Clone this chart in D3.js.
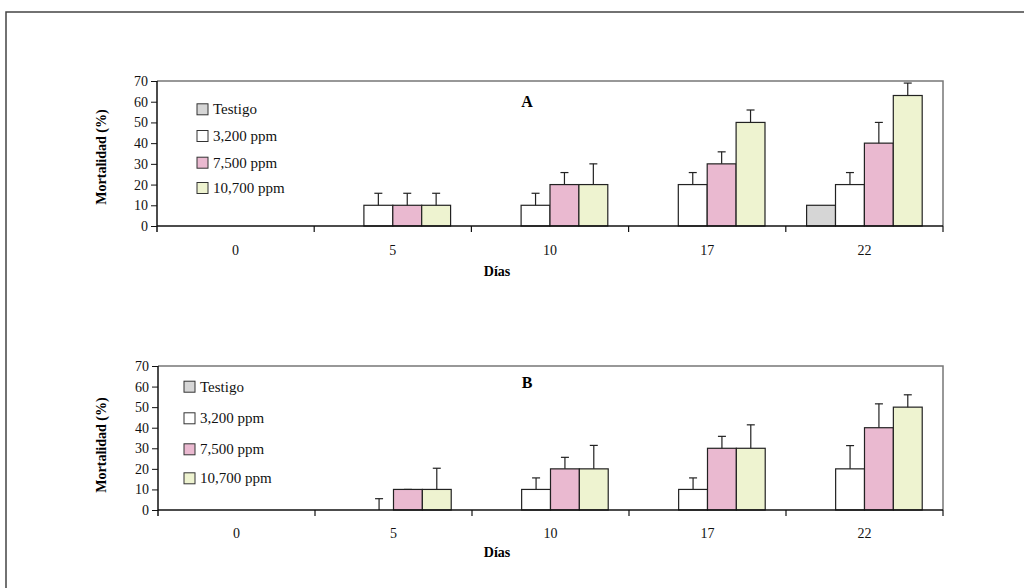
<!DOCTYPE html>
<html>
<head>
  <meta charset="UTF-8">
  <title>Mortalidad</title>
  <script src="https://d3js.org/d3.v7.min.js"></script>
  <style>
    body { margin: 0; background: #fff; }
    svg { display: block; font-family: "Liberation Serif", "Times New Roman", serif; }
    .tick text { font-size: 14px; fill: #111; font-family: "Liberation Serif", serif; }
  </style>
</head>
<body>
<div id="chart"></div>
<script>
  // data
  var days = ['0', '5', '10', '17', '22'];
  var series = ['Testigo', '3,200 ppm', '7,500 ppm', '10,700 ppm'];
  var colors = ['#d6d6d6', '#ffffff', '#eab9d0', '#eef3d0'];
  var yTicks = [0, 10, 20, 30, 40, 50, 60, 70];

  // panel A: rows = series, cols = days
  var valuesA = [
    [0, 0, 0, 0, 10],
    [0, 10, 10, 20, 20],
    [0, 10, 20, 30, 40],
    [0, 10, 20, 50, 63]
  ];
  var errorsA = [
    [0, 0, 0, 0, 0],
    [0, 5.8, 5.8, 5.8, 5.8],
    [0, 5.8, 5.8, 5.8, 10],
    [0, 5.8, 10, 6, 6]
  ];
  // panel B
  var valuesB = [
    [0, 0, 0, 0, 0],
    [0, 0, 10, 10, 20],
    [0, 10, 20, 30, 40],
    [0, 10, 20, 30, 50]
  ];
  var errorsB = [
    [0, 0, 0, 0, 0],
    [0, 5.5, 5.6, 5.6, 11.3],
    [0, 0, 5.6, 5.8, 11.6],
    [0, 10.3, 11.4, 11.4, 6]
  ];

  var W = 1024, H = 588;
  var svg = d3.select('#chart').append('svg')
    .attr('width', W)
    .attr('height', H);

  // outer frame (top + left only)
  svg.append('path')
    .attr('d', 'M6,' + H + 'V12H' + W)
    .attr('fill', 'none')
    .attr('stroke', '#444')
    .attr('stroke-width', 1.5);

  var panels = [
    { name: 'A', values: valuesA, errors: errorsA, left: 157, right: 943, top: 81, bottom: 226,
      legX: 197, legY: [109.3, 136, 162.7, 188], labY: 101, tickY: 255, xTitleY: 276, yTitleY: 157 },
    { name: 'B', values: valuesB, errors: errorsB, left: 158, right: 943, top: 366, bottom: 510,
      legX: 184, legY: [386.7, 418.3, 449.3, 478.3], labY: 382, tickY: 538, xTitleY: 557, yTitleY: 445 }
  ];

  panels.forEach(function(p) {
    var g = svg.append('g');

    var x = d3.scaleBand().domain(days).range([p.left, p.right]).padding(0);
    var xs = d3.scaleBand().domain(series).range([0, x.bandwidth()])
      .paddingInner(0).paddingOuter(0.72);
    var y = d3.scaleLinear().domain([0, 70]).range([p.bottom, p.top]);

    // top and right frame of plot area
    g.append('path')
      .attr('d', 'M' + p.left + ',' + p.top + 'H' + p.right + 'V' + p.bottom)
      .attr('fill', 'none')
      .attr('stroke', '#777')
      .attr('stroke-width', 1.5);

    // bars
    var flat = [];
    series.forEach(function(s, i) {
      days.forEach(function(d, j) {
        flat.push({ s: s, i: i, day: d, v: p.values[i][j], e: p.errors[i][j] });
      });
    });

    g.selectAll('rect.bar')
      .data(flat)
      .enter().append('rect')
      .attr('class', 'bar')
      .attr('x', d => x(d.day) + xs(d.s))
      .attr('y', d => y(d.v))
      .attr('width', xs.bandwidth())
      .attr('height', d => y(0) - y(d.v))
      .attr('fill', d => colors[d.i])
      .attr('stroke', '#222')
      .attr('stroke-width', 1.2);

    // error bars
    var eb = g.selectAll('g.err')
      .data(flat.filter(d => d.v > 0 || d.e > 0))
      .enter().append('g')
      .attr('class', 'err');
    eb.append('line')
      .attr('x1', d => x(d.day) + xs(d.s) + xs.bandwidth() / 2)
      .attr('x2', d => x(d.day) + xs(d.s) + xs.bandwidth() / 2)
      .attr('y1', d => y(d.v))
      .attr('y2', d => y(d.v + d.e))
      .attr('stroke', '#222')
      .attr('stroke-width', 1.2);
    eb.filter(d => d.e > 0 || d.i > 1).append('line')
      .attr('x1', d => x(d.day) + xs(d.s) + xs.bandwidth() / 2 - 4)
      .attr('x2', d => x(d.day) + xs(d.s) + xs.bandwidth() / 2 + 4)
      .attr('y1', d => y(d.v + d.e))
      .attr('y2', d => y(d.v + d.e))
      .attr('stroke', '#222')
      .attr('stroke-width', 1.2);

    // y axis
    var yAxis = d3.axisLeft(y).tickValues(yTicks).tickSize(6).tickPadding(3);
    var ya = g.append('g')
      .attr('transform', 'translate(' + p.left + ',0)')
      .call(yAxis);
    ya.select('.domain').attr('stroke', '#111').attr('stroke-width', 1.5)
      .attr('d', 'M0,' + p.top + 'V' + (p.bottom + 6));
    ya.selectAll('.tick line').attr('stroke', '#111');

    // x axis: baseline, boundary ticks, centred labels
    g.append('line')
      .attr('x1', p.left).attr('x2', p.right)
      .attr('y1', p.bottom).attr('y2', p.bottom)
      .attr('stroke', '#111').attr('stroke-width', 1.5);
    g.selectAll('line.xt')
      .data(days.slice(1).concat(['end']))
      .enter().append('line')
      .attr('class', 'xt')
      .attr('x1', d => d === 'end' ? p.right : x(d))
      .attr('x2', d => d === 'end' ? p.right : x(d))
      .attr('y1', p.bottom).attr('y2', p.bottom + 6)
      .attr('stroke', '#111').attr('stroke-width', 1.2);
    g.selectAll('text.xl')
      .data(days)
      .enter().append('text')
      .attr('class', 'xl')
      .attr('x', d => x(d) + x.bandwidth() / 2)
      .attr('y', p.tickY)
      .attr('text-anchor', 'middle')
      .attr('font-size', 14)
      .attr('fill', '#111')
      .text(d => d);

    // titles
    g.append('text')
      .attr('x', 497).attr('y', p.xTitleY)
      .attr('text-anchor', 'middle')
      .attr('font-size', 14).attr('font-weight', 'bold')
      .text('Días');
    g.append('text')
      .attr('transform', 'translate(106,' + p.yTitleY + ') rotate(-90)')
      .attr('text-anchor', 'middle')
      .attr('font-size', 14).attr('font-weight', 'bold')
      .text('Mortalidad (%)');
    g.append('text')
      .attr('x', 527).attr('y', p.labY + 6)
      .attr('text-anchor', 'middle')
      .attr('font-size', 16).attr('font-weight', 'bold')
      .text(p.name);

    // legend
    var leg = g.selectAll('g.leg')
      .data(series)
      .enter().append('g')
      .attr('class', 'leg')
      .attr('transform', (d, i) => 'translate(' + p.legX + ',' + p.legY[i] + ')');
    leg.append('rect')
      .attr('x', 0).attr('y', -5.5)
      .attr('width', 11).attr('height', 11)
      .attr('fill', (d, i) => colors[i])
      .attr('stroke', '#333').attr('stroke-width', 1);
    leg.append('text')
      .attr('x', 16).attr('y', 5)
      .attr('font-size', 15)
      .attr('fill', '#111')
      .text(d => d);
  });
</script>
</body>
</html>
